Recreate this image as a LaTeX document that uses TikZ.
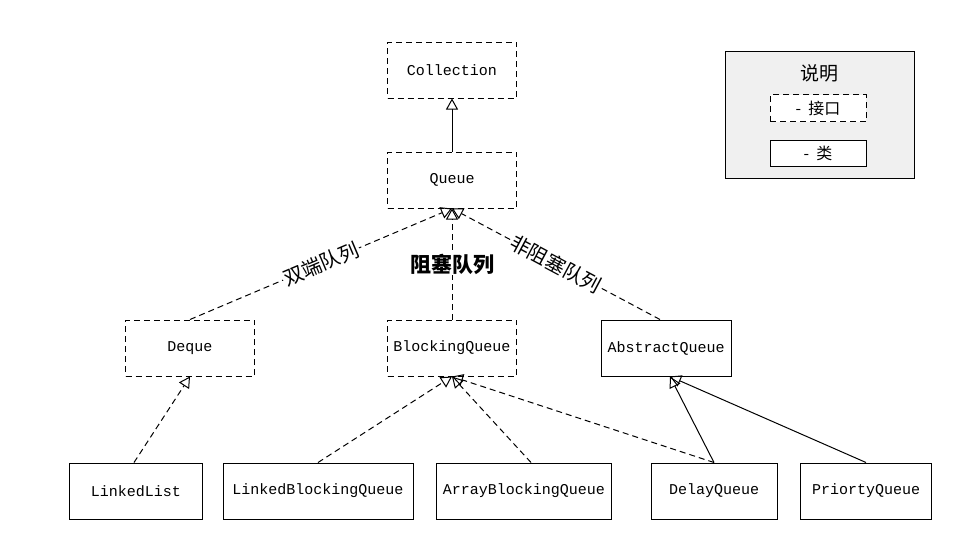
\documentclass[tikz,border=0pt]{standalone}
\usepackage{fontspec}
\setmonofont{Liberation Mono}
\newfontfamily\cjk{Noto Sans CJK SC}
\usetikzlibrary{arrows.meta}
\begin{document}
\begin{tikzpicture}[x=1pt, y=-1pt, line width=1pt,
    box/.style={draw, minimum height=56pt, font=\ttfamily\fontsize{15}{17}\selectfont},
    iface/.style={box, dash pattern=on 6pt off 4pt},
    impl/.style={dash pattern=on 6pt off 4pt, -{Triangle[open, length=11pt, width=12pt]}},
    ext/.style={-{Triangle[open, length=11pt, width=12pt]}},
    tag/.style={fill=white, inner sep=1pt, font=\cjk\fontsize{20}{24}\selectfont}]
    \useasboundingbox (0,0) rectangle (963,550);
    % interfaces and classes
    \node [iface, minimum width=129pt] (coll) at (452,70) {Collection};
    \node [iface, minimum width=129pt] (queue) at (452,180) {Queue};
    \node [iface, minimum width=129pt] (deque) at (190,348) {Deque};
    \node [iface, minimum width=129pt] (bq) at (452,348) {BlockingQueue};
    \node [box, minimum width=130pt] (aq) at (666,348) {AbstractQueue};
    \node [box, minimum width=133pt] (ll) at (136,491) {LinkedList};
    \node [box, minimum width=190pt] (lbq) at (318,491) {LinkedBlockingQueue};
    \node [box, minimum width=175pt] (abq) at (524,491) {ArrayBlockingQueue};
    \node [box, minimum width=126pt] (dq) at (714,491) {DelayQueue};
    \node [box, minimum width=131pt] (pq) at (866,491) {PriortyQueue};
    % edges
    \draw [ext] (queue.north) -- (coll.south);
    \draw [impl] (deque.north) -- node [tag, sloped] {双端队列} (queue.south);
    \draw [impl] (bq.north) -- node [tag, font=\cjk\bfseries\fontsize{21}{24}\selectfont] {阻塞队列} (queue.south);
    \draw [impl] ([xshift=-6pt]aq.north) -- node [tag, sloped] {非阻塞队列} (queue.south);
    \draw [impl] ([xshift=-2pt]ll.north) -- (deque.south);
    \draw [impl] (lbq.north) -- (bq.south);
    \draw [impl] ([xshift=7pt]abq.north) -- (bq.south);
    \draw [impl] (dq.north) -- (bq.south);
    \draw [ext] (dq.north) -- ([xshift=4pt]aq.south);
    \draw [ext] (pq.north) -- ([xshift=4pt]aq.south);
    % legend
    \draw [fill=black!6] (725,51) rectangle (914,178);
    \node [font=\cjk\fontsize{19}{22}\selectfont] (legtitle) at (819,73) {说明};
    \node [draw, fill=white, dash pattern=on 6pt off 4pt, minimum width=96pt, minimum height=27pt, font=\cjk\fontsize{16}{18}\selectfont] (legiface) at (818,108) {-\ \ 接口};
    \node [draw, fill=white, minimum width=96pt, minimum height=26pt, font=\cjk\fontsize{16}{18}\selectfont] (legcls) at (818,153) {-\ \ 类};
\end{tikzpicture}
\end{document}
